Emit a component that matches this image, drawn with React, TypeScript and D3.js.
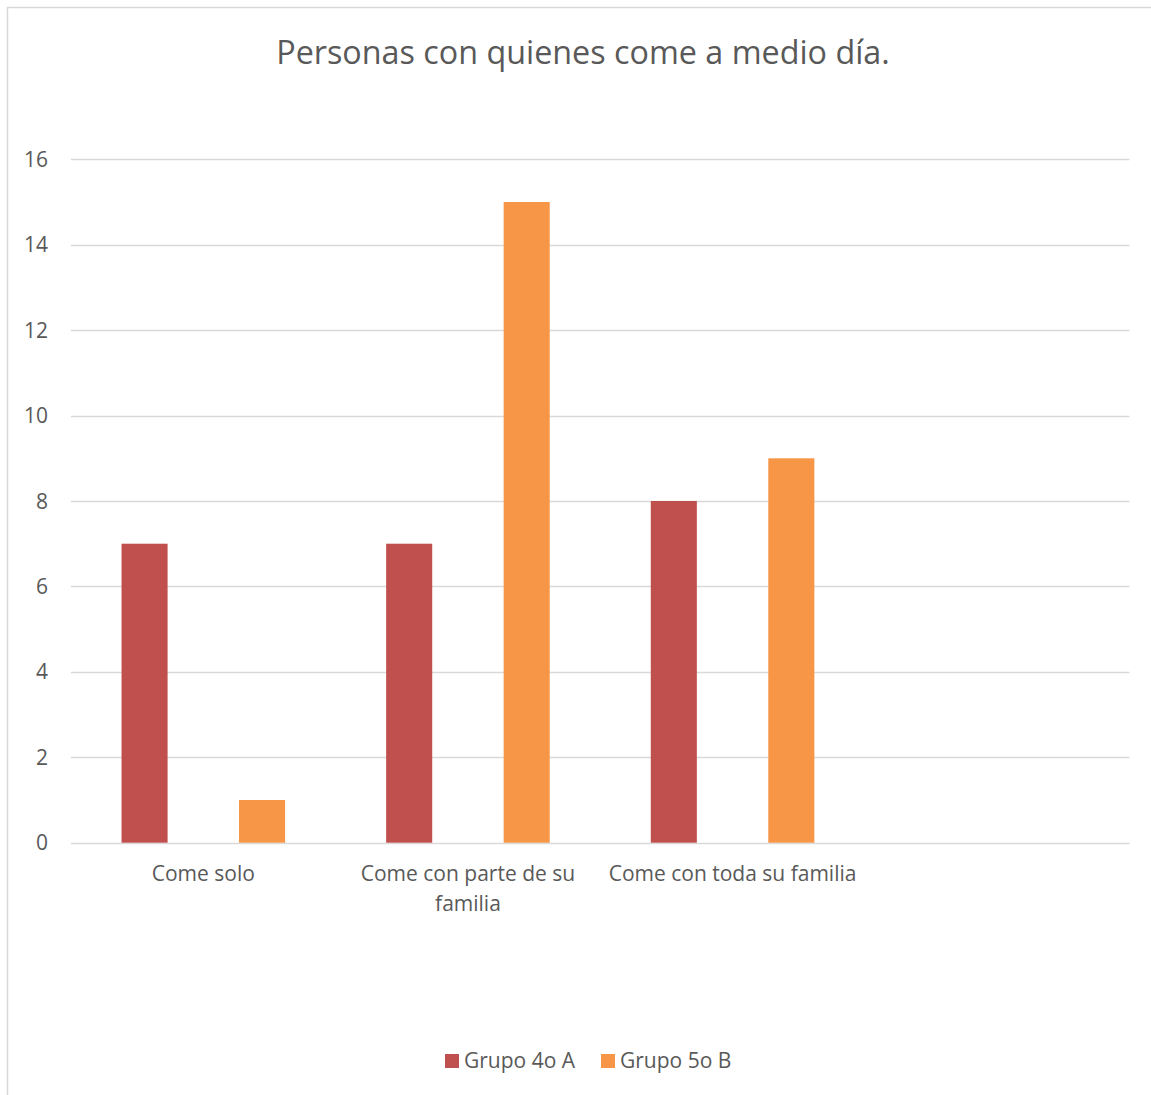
import React, { useEffect, useRef } from "react";
import * as d3 from "d3";

const title = "Personas con quienes come a medio día.";
const categories = ["Come solo", "Come con parte de su familia", "Come con toda su familia", ""];
const seriesNames = ["Grupo 4o A", "Grupo 5o B"];
const grupo4oA: (number | null)[] = [7, 7, 8, null];
const grupo5oB: (number | null)[] = [1, 15, 9, null];
const yTicks = [0, 2, 4, 6, 8, 10, 12, 14, 16];
const colors = ["#C0504D", "#F79646"];

const W = 1151;
const H = 1095;
const FONT = "'Open Sans', sans-serif";
const TEXT = "#595959";
const FS = 21;

export default function App() {
  const ref = useRef<SVGSVGElement>(null);

  useEffect(() => {
    const svg = d3.select(ref.current);
    svg.selectAll("*").remove();

    svg.append("rect")
      .attr("x", 7.5).attr("y", 7.5)
      .attr("width", W + 20).attr("height", H + 20)
      .attr("fill", "#fff").attr("stroke", "#d9d9d9").attr("stroke-width", 1.5);

    const x = d3.scaleBand<string>().domain(categories).range([71, 1129.5]).paddingInner(0).paddingOuter(0);
    const xs = d3.scaleBand<string>().domain(seriesNames).range([0, x.bandwidth()]).paddingInner(0.608).paddingOuter(0.43);
    const y = d3.scaleLinear().domain([0, 16]).range([842.7, 159.3]);

    svg.append("text")
      .attr("x", 583).attr("y", 64)
      .attr("text-anchor", "middle")
      .attr("font-family", FONT).attr("font-size", 32.3).attr("fill", TEXT)
      .text(title);

    const grid = svg.append("g");
    yTicks.forEach((t) => {
      grid.append("line")
        .attr("x1", 71).attr("x2", 1129.5)
        .attr("y1", Math.round(y(t)) + 0.5).attr("y2", Math.round(y(t)) + 0.5)
        .attr("stroke", "#d9d9d9").attr("stroke-width", 1.5);
      grid.append("text")
        .attr("x", 48).attr("y", y(t) + 7.5)
        .attr("text-anchor", "end")
        .attr("font-family", FONT).attr("font-size", FS).attr("fill", TEXT)
        .text(String(t));
    });

    const series = [grupo4oA, grupo5oB];
    series.forEach((vals, si) => {
      vals.forEach((v, ci) => {
        if (v == null) return;
        svg.append("rect")
          .attr("x", (x(categories[ci]) ?? 0) + (xs(seriesNames[si]) ?? 0))
          .attr("y", y(v))
          .attr("width", xs.bandwidth())
          .attr("height", y(0) - y(v))
          .attr("fill", colors[si]);
      });
    });

    // category labels with wrapping
    const canvas = document.createElement("canvas");
    const ctx = canvas.getContext("2d")!;
    ctx.font = `${FS}px ${FONT}`;
    categories.forEach((c) => {
      if (!c) return;
      const words = c.split(" ");
      const lines: string[] = [];
      let cur = "";
      words.forEach((w) => {
        const test = cur ? cur + " " + w : w;
        if (ctx.measureText(test).width > x.bandwidth() - 4 && cur) {
          lines.push(cur);
          cur = w;
        } else cur = test;
      });
      if (cur) lines.push(cur);
      const cx = (x(c) ?? 0) + x.bandwidth() / 2;
      lines.forEach((ln, i) => {
        svg.append("text")
          .attr("x", cx).attr("y", 881 + i * 30)
          .attr("text-anchor", "middle")
          .attr("font-family", FONT).attr("font-size", FS).attr("fill", TEXT)
          .text(ln);
      });
    });

    // legend
    const legendX = [445, 601];
    seriesNames.forEach((s, i) => {
      svg.append("rect")
        .attr("x", legendX[i]).attr("y", 1054)
        .attr("width", 14).attr("height", 14)
        .attr("fill", colors[i]);
      svg.append("text")
        .attr("x", legendX[i] + 19).attr("y", 1068)
        .attr("font-family", FONT).attr("font-size", FS).attr("fill", TEXT)
        .text(s);
    });
  }, []);

  return (
    <svg
      ref={ref}
      width={W}
      height={H}
      style={{ position: "absolute", left: 0, top: 0, background: "#fff" }}
    />
  );
}
